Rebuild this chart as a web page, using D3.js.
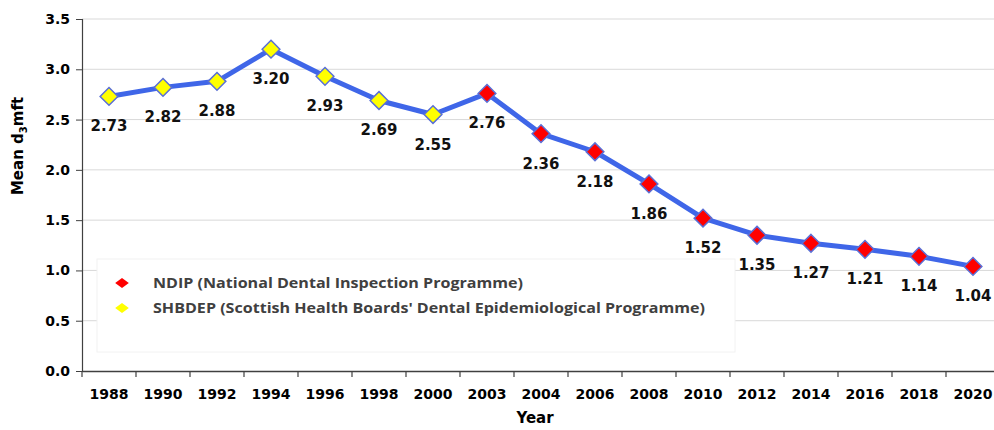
<!DOCTYPE html>
<html>
<head>
<meta charset="utf-8">
<script src="https://cdn.jsdelivr.net/npm/d3@7"></script>
<style>
	body { margin: 0; background: #fff; }
	svg { display: block; }
</style>
</head>
<body>
<div id="chart"></div>
<script>
// data
var years = ["1988", "1990", "1992", "1994", "1996", "1998", "2000", "2003", "2004", "2006", "2008", "2010", "2012", "2014", "2016", "2018", "2020"];
var meanDmft = [2.73, 2.82, 2.88, 3.20, 2.93, 2.69, 2.55, 2.76, 2.36, 2.18, 1.86, 1.52, 1.35, 1.27, 1.21, 1.14, 1.04];
var programme = ["SHBDEP", "SHBDEP", "SHBDEP", "SHBDEP", "SHBDEP", "SHBDEP", "SHBDEP", "NDIP", "NDIP", "NDIP", "NDIP", "NDIP", "NDIP", "NDIP", "NDIP", "NDIP", "NDIP"];
var yTicks = [0, 0.5, 1, 1.5, 2, 2.5, 3, 3.5];
var legendNames = ["NDIP", "SHBDEP"];
var legendLabels = ["NDIP (National Dental Inspection Programme)", "SHBDEP (Scottish Health Boards' Dental Epidemiological Programme)"];

var width = 994, height = 430;
var margin = {top: 19, right: -6, bottom: 59, left: 82};
var markerFill = {NDIP: "#ff0000", SHBDEP: "#ffff00"};

var svg = d3.select("#chart")
	.append("svg")
	.attr("width", width)
	.attr("height", height);

var x = d3.scaleBand()
	.domain(years)
	.range([margin.left, width - margin.right]);

var y = d3.scaleLinear()
	.domain([0, 3.5])
	.range([height - margin.bottom, margin.top]);

//Gridlines
svg.append("g")
	.selectAll("line")
	.data(yTicks.slice(1))
	.enter()
	.append("line")
	.attr("x1", margin.left)
	.attr("x2", width)
	.attr("y1", function(d) { return y(d); })
	.attr("y2", function(d) { return y(d); })
	.style("stroke", "#d9d9d9")
	.style("stroke-width", "1");

//Legend box (sits over the gridlines)
var legend = svg.append("g").attr("transform", "translate(97,259)");
legend.append("rect")
	.attr("width", 638)
	.attr("height", 93)
	.style("fill", "#fff")
	.style("stroke", "#f2f2f2")
	.style("stroke-width", "1");

legend.selectAll("path")
	.data(legendNames)
	.enter()
	.append("path")
	.attr("d", d3.symbol().type(d3.symbolDiamond2).size(90))
	.attr("transform", function(d, i) { return "translate(25," + (24 + i * 25) + ") scale(1.15,0.85)"; })
	.style("fill", function(d) { return markerFill[d]; });

legend.selectAll("text")
	.data(legendLabels)
	.enter()
	.append("text")
	.attr("x", 56)
	.attr("y", function(d, i) { return 29 + i * 25; })
	.attr("textLength", function(d, i) { return i == 0 ? 370 : 552; })
	.attr("lengthAdjust", "spacingAndGlyphs")
	.style("font-family", "'Open Sans', sans-serif")
	.style("font-weight", "bold")
	.style("font-size", "14px")
	.style("fill", "#404040")
	.text(function(d) { return d; });

//Axes
var xAxis = svg.append("g")
	.attr("transform", "translate(0," + y(0) + ")")
	.call(d3.axisBottom(x).tickSize(0).tickPadding(18));
xAxis.select(".domain").style("stroke", "#404040").style("stroke-width", "1.5");
xAxis.selectAll("text")
	.style("font-family", "'DejaVu Sans', sans-serif")
	.style("font-weight", "bold")
	.style("font-size", "14px")
	.style("fill", "#000");

//tick marks between categories
xAxis.selectAll(".sep")
	.data(years)
	.enter()
	.append("line")
	.attr("class", "sep")
	.attr("x1", function(d) { return x(d); })
	.attr("x2", function(d) { return x(d); })
	.attr("y1", 0)
	.attr("y2", 6)
	.style("stroke", "#404040")
	.style("stroke-width", "1.2");

var yAxis = svg.append("g")
	.attr("transform", "translate(" + margin.left + ",0)")
	.call(d3.axisLeft(y).tickValues(yTicks).tickFormat(d3.format(".1f")).tickSize(6).tickPadding(6));
yAxis.select(".domain").style("stroke", "#404040").style("stroke-width", "1.2");
yAxis.selectAll(".tick line").style("stroke", "#404040");
yAxis.selectAll("text")
	.style("font-family", "'DejaVu Sans', sans-serif")
	.style("font-weight", "bold")
	.style("font-size", "14px")
	.style("fill", "#000");

//Axis titles
svg.append("text")
	.attr("x", 535)
	.attr("y", 423)
	.attr("text-anchor", "middle")
	.style("font-family", "'DejaVu Sans', sans-serif")
	.style("font-weight", "bold")
	.style("font-size", "15px")
	.text("Year");

var yTitle = svg.append("text")
	.attr("transform", "translate(23,146) rotate(-90)")
	.attr("text-anchor", "middle")
	.style("font-family", "'DejaVu Sans', sans-serif")
	.style("font-weight", "bold")
	.style("font-size", "15px");
yTitle.append("tspan").text("Mean d");
yTitle.append("tspan").attr("dy", 4).style("font-size", "10px").text("3");
yTitle.append("tspan").attr("dy", -4).text("mft");

//Line
var cx = function(d, i) { return x(years[i]) + x.bandwidth() / 2; };
var line = d3.line()
	.x(cx)
	.y(function(d) { return y(d); });

svg.append("path")
	.datum(meanDmft)
	.attr("d", line)
	.style("fill", "none")
	.style("stroke", "#3f66e8")
	.style("stroke-width", "5")
	.style("stroke-linejoin", "round");

//Markers
svg.append("g")
	.selectAll("path")
	.data(meanDmft)
	.enter()
	.append("path")
	.attr("d", d3.symbol().type(d3.symbolDiamond2).size(200))
	.attr("transform", function(d, i) { return "translate(" + cx(d, i) + "," + y(d) + ")"; })
	.style("fill", function(d, i) { return markerFill[programme[i]]; })
	.style("stroke", "#5a6fd6")
	.style("stroke-width", "1.5");

//Value labels
svg.append("g")
	.selectAll("text")
	.data(meanDmft)
	.enter()
	.append("text")
	.attr("x", cx)
	.attr("y", function(d) { return y(d) + 35; })
	.attr("text-anchor", "middle")
	.style("font-family", "'DejaVu Sans', sans-serif")
	.style("font-weight", "bold")
	.style("font-size", "15px")
	.style("fill", "#111")
	.text(function(d) { return d.toFixed(2); });
</script>
</body>
</html>
